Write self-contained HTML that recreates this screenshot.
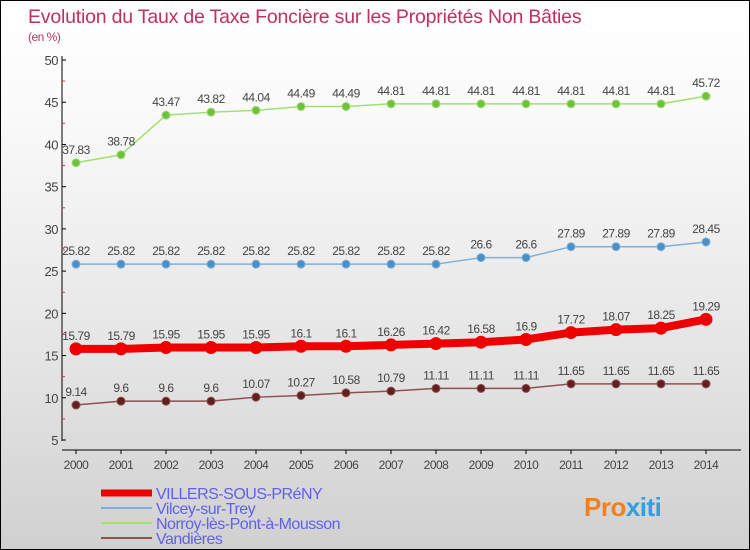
<!DOCTYPE html>
<html><head><meta charset="utf-8"><style>
body{margin:0}
#wrap{width:748px;height:548px;border:1px solid #000;background:linear-gradient(#fff,#fafafa 20%,#e2e2e2 70%,#d0d0d0);position:relative;overflow:hidden;font-family:"Liberation Sans",sans-serif}
</style></head><body>
<div id="wrap">
<svg id="svg" width="748" height="548"></svg>
</div>
<script>
const years=[2000,2001,2002,2003,2004,2005,2006,2007,2008,2009,2010,2011,2012,2013,2014];
const villers=[15.79,15.79,15.95,15.95,15.95,16.1,16.1,16.26,16.42,16.58,16.9,17.72,18.07,18.25,19.29];
const vilcey=[25.82,25.82,25.82,25.82,25.82,25.82,25.82,25.82,25.82,26.6,26.6,27.89,27.89,27.89,28.45];
const norroy=[37.83,38.78,43.47,43.82,44.04,44.49,44.49,44.81,44.81,44.81,44.81,44.81,44.81,44.81,45.72];
const vand=[9.14,9.6,9.6,9.6,10.07,10.27,10.58,10.79,11.11,11.11,11.11,11.65,11.65,11.65,11.65];
const yTicks=[5,10,15,20,25,30,35,40,45,50];
const NS="http://www.w3.org/2000/svg",svg=document.getElementById('svg');
const X=i=>75+i*45, Y=v=>59+(50-v)/45*380;
function el(t,a,p){const e=document.createElementNS(NS,t);for(const k in a)e.setAttribute(k,a[k]);(p||svg).appendChild(e);return e;}
function txt(x,y,s,a,p){const t=el('text',Object.assign({x:x,y:y,'font-size':12,fill:'#444','letter-spacing':'-0.5'},a),p);t.textContent=s;return t;}
let t=txt(27,22,'Evolution du Taux de Taxe Foncière sur les Propriétés Non Bâties',{'font-size':19.5,fill:'#c03060','letter-spacing':'-0.2'});

t=txt(27,40,'(en %)',{'font-size':12,fill:'#c03060'});

let ax=el('line',{x1:61,y1:55,x2:61,y2:440,stroke:'#000'});

ax=el('line',{x1:61,y1:449,x2:740,y2:449,stroke:'#000'});

yTicks.forEach(v=>{el('line',{x1:61,y1:Y(v),x2:65,y2:Y(v),stroke:'#000'});
 if(v<50)el('line',{x1:61,y1:Y(v+2.5),x2:64,y2:Y(v+2.5),stroke:'#e03030'});
 const l=txt(57,Y(v)+5,String(v),{'text-anchor':'end','font-size':13});
 });
years.forEach((y,i)=>{el('line',{x1:X(i),y1:449,x2:X(i),y2:453,stroke:'#000'});
 const l=txt(X(i),468,String(y),{'text-anchor':'middle'});
 });
function series(d,color,dot,w,r,name){
 const g=el('g',{});
 el('polyline',{points:d.map((v,i)=>X(i)+','+Y(v)).join(' '),fill:'none',stroke:color,'stroke-width':w},g);
 d.forEach((v,i)=>{const c=el('circle',{cx:X(i),cy:Y(v),r:r,fill:dot,stroke:color},g);
  
  const l=txt(X(i),Y(v)-9,String(v),{'text-anchor':'middle'},g);
  });
}
series(norroy,'#a0e070','#70c040',1.5,4,'series-norroy');
series(vilcey,'#80b0d8','#4a90c8',1.5,4,'series-vilcey');
series(vand,'#905050','#602020',1.5,4,'series-vandieres');
series(villers,'#ee0000','#ee0000',8,6,'series-villers');
const leg=[['VILLERS-SOUS-PRéNY','#ee0000',7],['Vilcey-sur-Trey','#80b0d8',2],['Norroy-lès-Pont-à-Mousson','#a0e070',2],['Vandières','#905050',2]];
leg.forEach((e,i)=>{const g=el('g',{});
 const y=492+i*15;el('line',{x1:100,y1:y,x2:151,y2:y,stroke:e[1],'stroke-width':e[2]},g);
 txt(155,y+6,e[0],{'font-size':16,fill:'#6060ee'},g);});
t=txt(583,515,'Pro',{'font-size':26,fill:'#f08020','font-weight':'bold'});

const t2=el('tspan',{fill:'#30a0e0'},t);t2.textContent='xiti';
</script>
</body></html>
